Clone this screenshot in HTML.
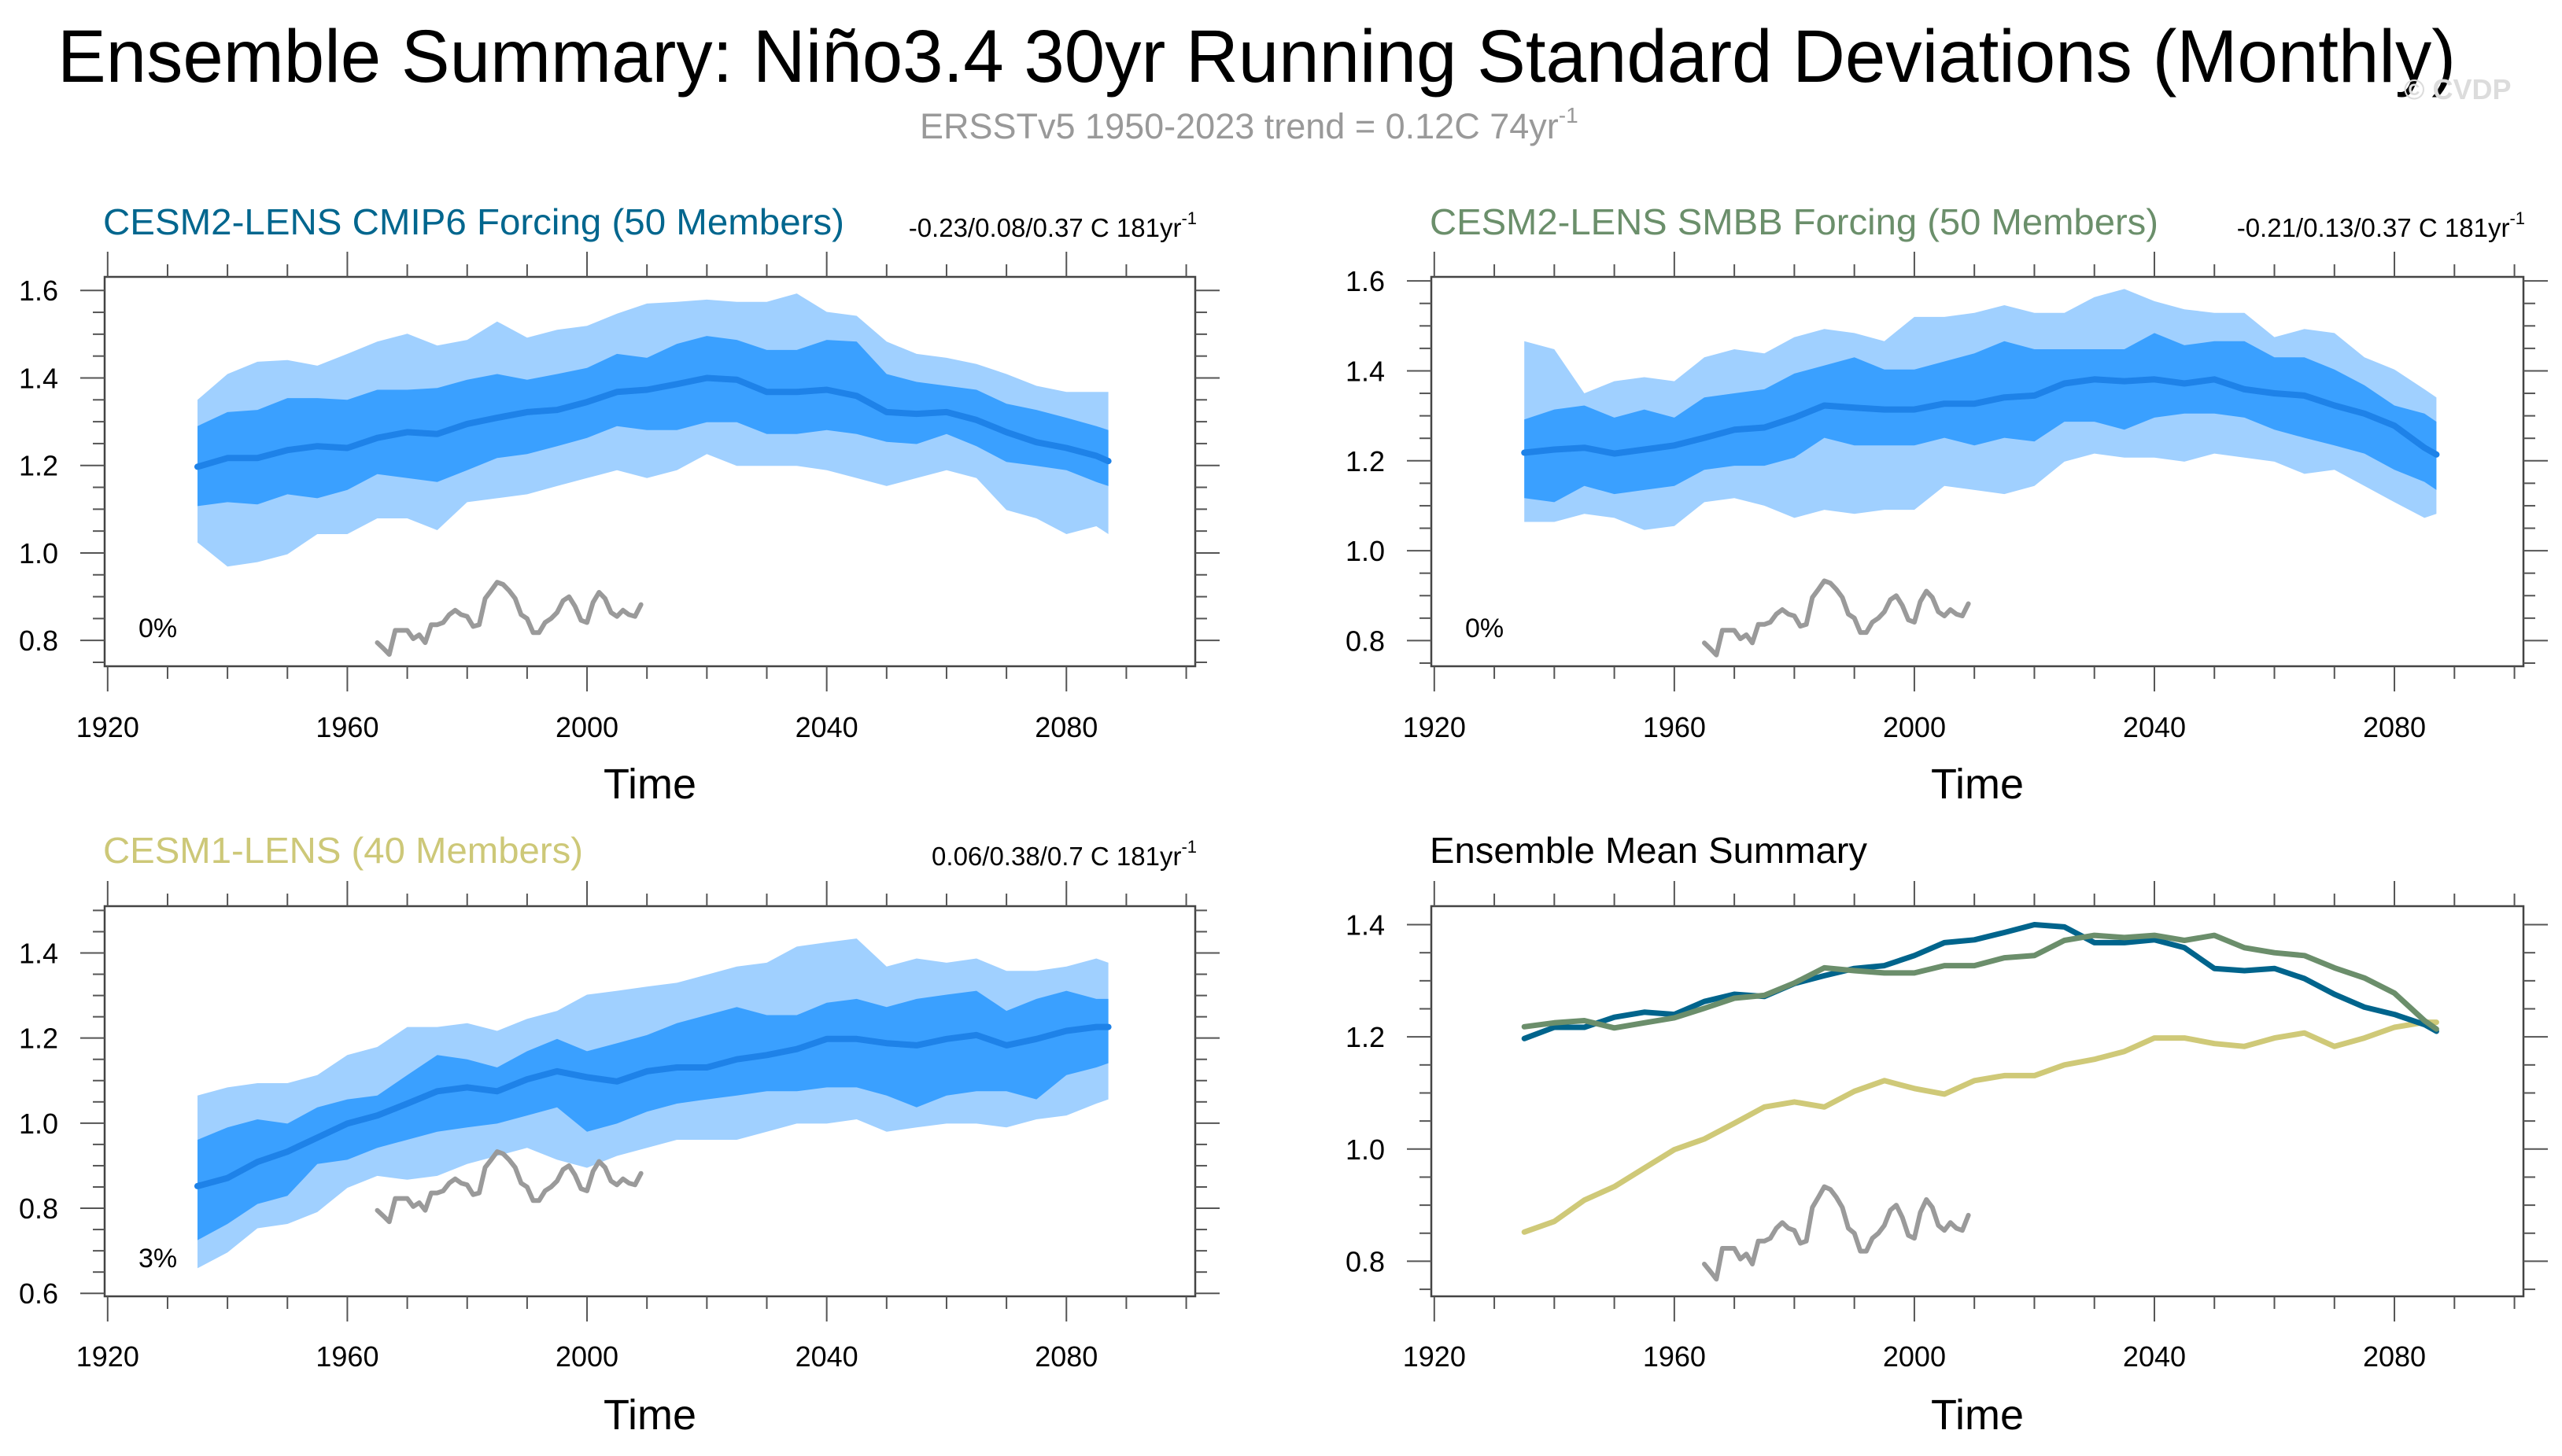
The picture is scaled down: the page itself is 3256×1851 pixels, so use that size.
<!DOCTYPE html>
<html><head><meta charset="utf-8">
<style>
html,body{margin:0;padding:0;background:#fff;}
svg{display:block;font-family:"Liberation Sans",Arial,sans-serif;}
</style></head>
<body>
<svg id="chart" xmlns="http://www.w3.org/2000/svg" width="3256" height="1851" viewBox="0 0 3256 1851">
<rect x="0" y="0" width="3256" height="1851" fill="#fff"/>
<text x="73" y="104" font-size="95" textLength="3048" lengthAdjust="spacingAndGlyphs" fill="#000">Ensemble Summary: Niño3.4 30yr Running Standard Deviations (Monthly)</text>
<text x="3055" y="126" font-size="36" font-weight="bold" fill="#dcdcdc">© CVDP</text>
<text x="1169" y="176" font-size="45" fill="#999">ERSSTv5 1950-2023 trend = 0.12C 74yr<tspan font-size="28" dy="-20">-1</tspan></text>
<g id="panels"></g>
</svg>
<script>
// shared axis
const years = [1935,1940,1945,1950,1955,1960,1965,1970,1975,1980,1985,1990,1995,2000,2005,2010,2015,2020,2025,2030,2035,2040,2045,2050,2055,2060,2065,2070,2075,2080,2085,2087];
const xTicksMajor = [1920,1960,2000,2040,2080];
const xTickLabels = ["1920","1960","2000","2040","2080"];

// CESM2 CMIP6
const cmip6Mean = [1.197,1.217,1.217,1.235,1.244,1.24,1.263,1.276,1.272,1.295,1.309,1.322,1.327,1.345,1.368,1.373,1.386,1.40,1.396,1.368,1.368,1.373,1.359,1.322,1.318,1.322,1.304,1.276,1.253,1.24,1.222,1.21];
const cmip6P75 = [1.29,1.322,1.327,1.354,1.354,1.35,1.373,1.373,1.377,1.396,1.409,1.396,1.409,1.423,1.455,1.446,1.478,1.496,1.487,1.464,1.464,1.487,1.483,1.409,1.391,1.382,1.373,1.341,1.327,1.309,1.29,1.281];
const cmip6P25 = [1.107,1.116,1.111,1.134,1.125,1.144,1.18,1.171,1.162,1.189,1.217,1.226,1.244,1.263,1.29,1.281,1.281,1.299,1.299,1.272,1.272,1.281,1.272,1.254,1.249,1.272,1.244,1.208,1.199,1.189,1.162,1.153];
const cmip6P90 = [1.35,1.409,1.437,1.441,1.428,1.455,1.483,1.501,1.474,1.487,1.529,1.492,1.51,1.519,1.547,1.57,1.574,1.579,1.574,1.574,1.593,1.551,1.542,1.483,1.455,1.446,1.432,1.409,1.382,1.368,1.368,1.368];
const cmip6P10 = [1.024,0.969,0.979,0.997,1.043,1.043,1.079,1.079,1.052,1.116,1.125,1.134,1.153,1.171,1.189,1.171,1.189,1.226,1.199,1.199,1.199,1.189,1.171,1.153,1.171,1.189,1.171,1.098,1.079,1.043,1.061,1.043];

// CESM2 SMBB
const smbbMean = [1.218,1.225,1.229,1.216,1.225,1.234,1.251,1.269,1.274,1.296,1.323,1.318,1.314,1.314,1.327,1.327,1.341,1.345,1.372,1.381,1.377,1.381,1.372,1.381,1.359,1.35,1.345,1.323,1.305,1.278,1.229,1.214];
const smbbP75 = [1.292,1.314,1.323,1.296,1.314,1.296,1.341,1.35,1.359,1.394,1.412,1.43,1.403,1.403,1.421,1.439,1.466,1.448,1.448,1.448,1.448,1.484,1.457,1.466,1.466,1.43,1.43,1.403,1.368,1.323,1.305,1.287];
const smbbP25 = [1.117,1.108,1.144,1.126,1.135,1.144,1.18,1.189,1.189,1.207,1.251,1.234,1.234,1.234,1.251,1.234,1.251,1.243,1.287,1.287,1.269,1.296,1.305,1.305,1.296,1.269,1.251,1.234,1.216,1.18,1.153,1.135];
const smbbP90 = [1.466,1.448,1.35,1.377,1.386,1.377,1.43,1.448,1.439,1.475,1.493,1.484,1.466,1.52,1.52,1.529,1.546,1.529,1.529,1.564,1.582,1.555,1.537,1.529,1.529,1.475,1.493,1.484,1.43,1.403,1.359,1.341];
const smbbP10 = [1.064,1.064,1.082,1.073,1.046,1.055,1.108,1.117,1.1,1.073,1.091,1.082,1.091,1.091,1.144,1.135,1.126,1.144,1.198,1.216,1.207,1.207,1.198,1.216,1.207,1.198,1.171,1.18,1.144,1.108,1.073,1.082];

// CESM1
const cesm1Mean = [0.852,0.871,0.909,0.933,0.966,0.999,1.018,1.046,1.075,1.084,1.075,1.103,1.122,1.108,1.098,1.122,1.131,1.131,1.15,1.16,1.174,1.198,1.198,1.188,1.183,1.198,1.207,1.183,1.198,1.217,1.226,1.226];
const cesm1P75 = [0.961,0.99,1.009,0.999,1.037,1.056,1.065,1.113,1.16,1.15,1.131,1.169,1.198,1.169,1.188,1.207,1.235,1.254,1.273,1.254,1.254,1.283,1.292,1.273,1.292,1.302,1.311,1.264,1.292,1.311,1.292,1.292];
const cesm1P25 = [0.725,0.763,0.81,0.829,0.904,0.914,0.942,0.961,0.98,0.99,0.999,1.018,1.037,0.98,0.999,1.027,1.046,1.056,1.065,1.075,1.075,1.084,1.084,1.065,1.037,1.065,1.075,1.075,1.056,1.113,1.131,1.141];
const cesm1P90 = [1.065,1.084,1.094,1.094,1.113,1.16,1.179,1.226,1.226,1.235,1.217,1.245,1.264,1.302,1.311,1.321,1.33,1.349,1.368,1.377,1.415,1.425,1.434,1.368,1.387,1.377,1.387,1.358,1.358,1.368,1.387,1.377];
const cesm1P10 = [0.659,0.696,0.753,0.763,0.791,0.848,0.876,0.867,0.876,0.904,0.923,0.942,0.914,0.895,0.923,0.942,0.961,0.961,0.961,0.98,0.999,0.999,1.009,0.98,0.99,0.999,0.999,0.99,1.009,1.018,1.046,1.056];

// ERSST observations
const obsYears = [1965,1966,1967,1968,1969,1970,1971,1972,1973,1974,1975,1976,1977,1978,1979,1980,1981,1982,1983,1984,1985,1986,1987,1988,1989,1990,1991,1992,1993,1994,1995,1996,1997,1998,1999,2000,2001,2002,2003,2004,2005,2006,2007,2008,2009];
const obsValues = [0.795,0.782,0.768,0.823,0.823,0.823,0.804,0.813,0.795,0.836,0.836,0.841,0.859,0.869,0.859,0.855,0.832,0.836,0.896,0.914,0.933,0.928,0.914,0.896,0.859,0.85,0.818,0.818,0.841,0.85,0.864,0.891,0.9,0.878,0.846,0.841,0.887,0.91,0.896,0.864,0.855,0.869,0.859,0.855,0.882];

const NS = "http://www.w3.org/2000/svg";
const root = document.getElementById('panels');
function el(tag, attrs, parent){
  const e = document.createElementNS(NS, tag);
  for (const k in attrs) e.setAttribute(k, attrs[k]);
  (parent||root).appendChild(e);
  return e;
}
const XMIN = 1919.5, XMAX = 2101.5;

function panel(cfg){
  const g = el('g', {});
  
  
  const {x0,x1,y0,y1,ymin,ymax} = cfg;
  const sx = v => x0 + (v - XMIN) / (XMAX - XMIN) * (x1 - x0);
  const sy = v => y1 - (v - ymin) / (ymax - ymin) * (y1 - y0);

  if (cfg.bands){
    cfg.bands.forEach(b => {
      let d = '';
      years.forEach((yr,i) => { d += (i ? 'L' : 'M') + sx(yr).toFixed(1) + ' ' + sy(b.hi[i]).toFixed(1); });
      for (let i = years.length - 1; i >= 0; i--) d += 'L' + sx(years[i]).toFixed(1) + ' ' + sy(b.lo[i]).toFixed(1);
      const p = el('path', {d: d + 'Z', fill: b.color}, g);
      
      
    });
  }
  cfg.lines.forEach(l => {
    const xs = l.xs || years;
    let d = '';
    xs.forEach((yr,i) => { d += (i ? 'L' : 'M') + sx(yr).toFixed(1) + ' ' + sy(l.v[i]).toFixed(1); });
    const p = el('path', {d, fill:'none', stroke:l.color, 'stroke-width':l.w, 'stroke-linejoin':'round', 'stroke-linecap':'round'}, g);
    
    
  });

  const box = el('rect', {x:x0, y:y0, width:x1-x0, height:y1-y0, fill:'none', stroke:'#444', 'stroke-width':2.5}, g);
  
  

  for (let yr = 1920; yr <= 2100; yr += 10){
    const major = (yr - 1920) % 40 === 0;
    const len = major ? 32 : 16;
    const X = sx(yr);
    el('line', {x1:X, x2:X, y1:y0, y2:y0-len, stroke:'#555', 'stroke-width':2}, g);
    el('line', {x1:X, x2:X, y1:y1, y2:y1+len, stroke:'#555', 'stroke-width':2}, g);
  }
  xTicksMajor.forEach((yr,i) => {
    const t = el('text', {x:sx(yr), y:cfg.xLabelY, 'font-size':36, 'text-anchor':'middle', fill:'#000'}, g);
    t.textContent = xTickLabels[i];
    
    
  });
  const start = Math.ceil(ymin / 0.05 - 1e-6), end = Math.floor(ymax / 0.05 + 1e-6);
  for (let k = start; k <= end; k++){
    const v = k * 0.05;
    const major = k % 4 === 0;
    const len = major ? 31 : 15;
    const Y = sy(v);
    el('line', {x1:x0, x2:x0-len, y1:Y, y2:Y, stroke:'#555', 'stroke-width':2}, g);
    el('line', {x1:x1, x2:x1+len, y1:Y, y2:Y, stroke:'#555', 'stroke-width':2}, g);
    if (major){
      const t = el('text', {x:x0-59, y:Y+13, 'font-size':36, 'text-anchor':'end', fill:'#000'}, g);
      t.textContent = v.toFixed(1);
      
      
    }
  }
  const xt = el('text', {x:(x0+x1)/2, y:cfg.timeY, 'font-size':54, 'text-anchor':'middle', fill:'#000'}, g);
  xt.textContent = 'Time';
  
  
  const tt = el('text', {x:x0-2, y:cfg.titleY, 'font-size':46, fill:cfg.titleColor, textLength:cfg.titleLen, lengthAdjust:'spacingAndGlyphs'}, g);
  tt.textContent = cfg.title;
  
  
  if (cfg.stat){
    const st = el('text', {x:x1+2, y:cfg.titleY+3, 'font-size':33, 'text-anchor':'end', fill:'#000'}, g);
    
    
    st.appendChild(document.createTextNode(cfg.stat));
    const sup = el('tspan', {'font-size':22, dy:-16}, st);
    sup.textContent = '-1';
  }
  if (cfg.pct){
    const pt = el('text', {x:x0+43, y:y1-37, 'font-size':34, fill:'#000'}, g);
    pt.textContent = cfg.pct;
    
    
  }
}

const LIGHT = '#a0d0ff', DARK = '#3aa0ff', MEAN = '#1e82e8', OBS = '#9a9a9a';

panel({name:'panel-cesm2-cmip6', x0:133, x1:1519, y0:352, y1:847, ymin:0.741, ymax:1.631,
  xLabelY:937, timeY:1015, titleY:298, title:'CESM2-LENS CMIP6 Forcing (50 Members)', titleColor:'#00668e', titleLen:942,
  stat:'-0.23/0.08/0.37 C 181yr', pct:'0%',
  bands:[{name:'band-10-90',hi:cmip6P90,lo:cmip6P10,color:LIGHT},{name:'band-25-75',hi:cmip6P75,lo:cmip6P25,color:DARK}],
  lines:[{name:'ensemble-mean-line',v:cmip6Mean,color:MEAN,w:8},{name:'ersst-obs-line',xs:obsYears,v:obsValues,color:OBS,w:6}]});

panel({name:'panel-cesm2-smbb', x0:1819, x1:3207, y0:352, y1:847, ymin:0.743, ymax:1.609,
  xLabelY:937, timeY:1015, titleY:298, title:'CESM2-LENS SMBB Forcing (50 Members)', titleColor:'#6b8f6b', titleLen:926,
  stat:'-0.21/0.13/0.37 C 181yr', pct:'0%',
  bands:[{name:'band-10-90',hi:smbbP90,lo:smbbP10,color:LIGHT},{name:'band-25-75',hi:smbbP75,lo:smbbP25,color:DARK}],
  lines:[{name:'ensemble-mean-line',v:smbbMean,color:MEAN,w:8},{name:'ersst-obs-line',xs:obsYears,v:obsValues,color:OBS,w:6}]});

panel({name:'panel-cesm1', x0:133, x1:1519, y0:1152, y1:1648, ymin:0.593, ymax:1.51,
  xLabelY:1737, timeY:1817, titleY:1097, title:'CESM1-LENS (40 Members)', titleColor:'#cdc878', titleLen:610,
  stat:'0.06/0.38/0.7 C 181yr', pct:'3%',
  bands:[{name:'band-10-90',hi:cesm1P90,lo:cesm1P10,color:LIGHT},{name:'band-25-75',hi:cesm1P75,lo:cesm1P25,color:DARK}],
  lines:[{name:'ensemble-mean-line',v:cesm1Mean,color:MEAN,w:8},{name:'ersst-obs-line',xs:obsYears,v:obsValues,color:OBS,w:6}]});

panel({name:'panel-ensemble-mean-summary', x0:1819, x1:3207, y0:1152, y1:1648, ymin:0.7375, ymax:1.433,
  xLabelY:1737, timeY:1817, titleY:1097, title:'Ensemble Mean Summary', titleColor:'#000', titleLen:556,
  lines:[{name:'cesm1-mean-line',v:cesm1Mean,color:'#cfc978',w:7},
         {name:'cmip6-mean-line',v:cmip6Mean,color:'#00648c',w:7},
         {name:'smbb-mean-line',v:smbbMean,color:'#6b8e6b',w:7},
         {name:'ersst-obs-line',xs:obsYears,v:obsValues,color:OBS,w:6}]});
</script>
</body></html>
